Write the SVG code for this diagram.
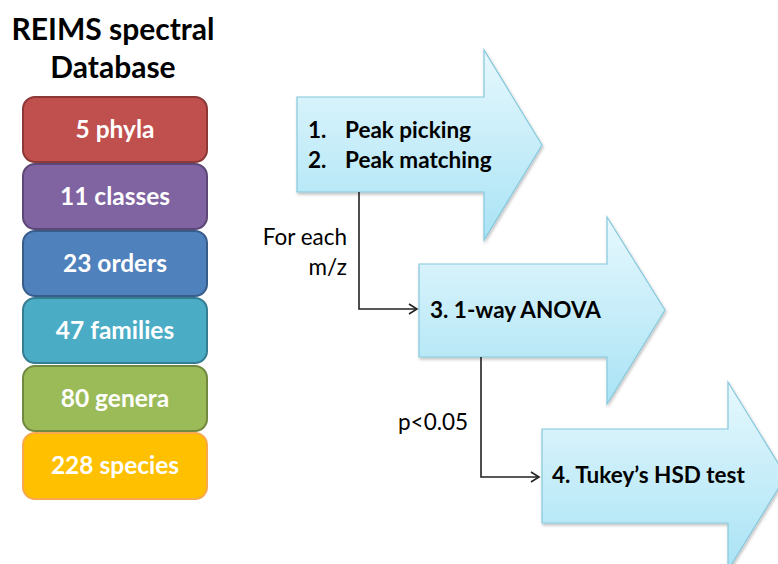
<svg xmlns="http://www.w3.org/2000/svg" width="778" height="564" viewBox="0 0 778 564">
<style>
.title{font-family:Lato,"Liberation Sans",sans-serif;font-weight:bold;font-size:30px;fill:#000;text-anchor:middle}
.box text{font-family:Lato,"Liberation Sans",sans-serif;font-weight:bold;font-size:24.5px;fill:#fff;text-anchor:middle}
.arrow path{fill:url(#cyan);stroke:#86C8DC;stroke-width:1.2}
.atext{font-family:Lato,"Liberation Sans",sans-serif;font-weight:bold;font-size:22.5px;fill:#000}
.lbl{font-family:Lato,"Liberation Sans",sans-serif;font-size:22.5px;fill:#000}
.conn{fill:none;stroke:#222;stroke-width:1.6}
</style>
<defs>
<linearGradient id="cyan" x1="0" y1="0" x2="0" y2="1">
<stop offset="0" stop-color="#E6F8FD"/>
<stop offset="1" stop-color="#A9E3F5"/>
</linearGradient>
<filter id="sh" x="-10%" y="-10%" width="120%" height="120%">
<feDropShadow dx="1" dy="2" stdDeviation="1.5" flood-color="#000" flood-opacity="0.25"/>
</filter>
<marker id="open" markerWidth="12" markerHeight="12" refX="10" refY="6" orient="auto" markerUnits="userSpaceOnUse">
<path d="M2,1 L10,6 L2,11" fill="none" stroke="#222" stroke-width="1.6"/>
</marker>
</defs>
<rect width="778" height="564" fill="#fff"/>
<text class="title" x="113" y="40">REIMS spectral</text>
<text class="title" x="113" y="78">Database</text>
<g id="phyla" class="box"><rect x="23" y="97" width="184" height="65" rx="12" fill="#C0504D" stroke="#8C3836" stroke-width="2"/><text x="115" y="138">5 phyla</text></g>
<g id="classes" class="box"><rect x="23" y="164" width="184" height="65" rx="12" fill="#8064A2" stroke="#5C4776" stroke-width="2"/><text x="115" y="205">11 classes</text></g>
<g id="orders" class="box"><rect x="23" y="231" width="184" height="65" rx="12" fill="#4F81BD" stroke="#385D8A" stroke-width="2"/><text x="115" y="272">23 orders</text></g>
<g id="families" class="box"><rect x="23" y="298" width="184" height="65" rx="12" fill="#4BACC6" stroke="#357D91" stroke-width="2"/><text x="115" y="339">47 families</text></g>
<g id="genera" class="box"><rect x="23" y="366" width="184" height="65" rx="12" fill="#9BBB59" stroke="#71893F" stroke-width="2"/><text x="115" y="407">80 genera</text></g>
<g id="species" class="box"><rect x="23" y="433" width="184" height="66" rx="12" fill="#FFC000" stroke="#F9A94B" stroke-width="2"/><text x="115" y="474">228 species</text></g>
<g id="step1" class="arrow"><path filter="url(#sh)" d="M297,97 H484 V50 L542,145 L484,240 V192 H297 Z"/>
<text class="atext" x="308" y="138">1.</text><text class="atext" x="345" y="138">Peak picking</text>
<text class="atext" x="308" y="168">2.</text><text class="atext" x="345" y="168">Peak matching</text></g>
<g id="step3" class="arrow"><path filter="url(#sh)" d="M419,264 H607 V217 L665,310 L607,404 V357 H419 Z"/>
<text class="atext" x="430" y="318">3. 1-way ANOVA</text></g>
<g id="step4" class="arrow"><path filter="url(#sh)" d="M542,429 H728 V382 L786,476 L728,570 V523 H542 Z"/>
<text class="atext" x="552" y="483">4. Tukey’s HSD test</text></g>
<g id="connectors">
<path class="conn" d="M359,192 V309 H417" marker-end="url(#open)"/>
<path class="conn" d="M481,357 V477 H539" marker-end="url(#open)"/>
<text class="lbl" x="347" y="245" text-anchor="end">For each</text>
<text class="lbl" x="347" y="275" text-anchor="end">m/z</text>
<text class="lbl" x="398" y="430">p&lt;0.05</text>
</g>
</svg>
